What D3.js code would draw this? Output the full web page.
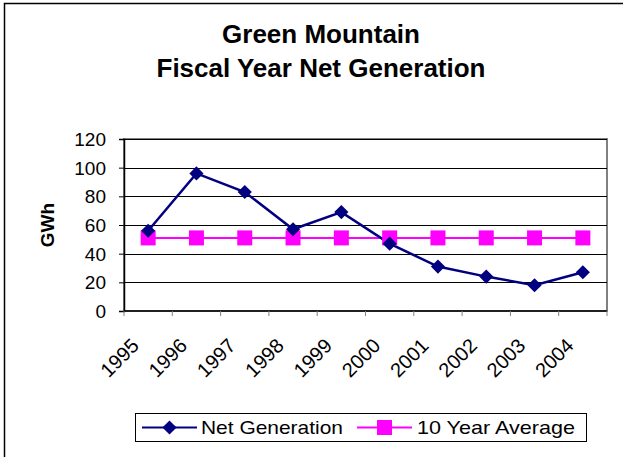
<!DOCTYPE html>
<html>
<head>
<meta charset="utf-8">
<script src="https://cdn.jsdelivr.net/npm/d3@7"></script>
<style>
  body { margin: 0; background: #fff; }
  svg { display: block; font-family: "Liberation Sans", Arial, sans-serif; }
</style>
</head>
<body>
<svg id="chart"></svg>
<script>
const width = 623;
const height = 457;
const margin = { top: 139, right: 16, bottom: 146, left: 124 };

const years = ["1995", "1996", "1997", "1998", "1999", "2000", "2001", "2002", "2003", "2004"];
const netGeneration = [56, 96, 83, 57, 69, 47, 31, 24, 18, 27];
const tenYearAverage = [51, 51, 51, 51, 51, 51, 51, 51, 51, 51];
const yTicks = [0, 20, 40, 60, 80, 100, 120];

const svg = d3.select("#chart").attr("width", width).attr("height", height);

// outer chart border (right and bottom fall off the picture)
svg.append("rect")
  .attr("x", 4.5).attr("y", 3.5)
  .attr("width", 640).attr("height", 470)
  .attr("fill", "#fff")
  .attr("stroke", "#000")
  .attr("stroke-width", 1.5);

const xScale = d3.scaleBand()
  .domain(years)
  .range([margin.left, width - margin.right]);

const yScale = d3.scaleLinear()
  .domain([0, 120])
  .range([height - margin.bottom, margin.top]);

// plot area frame
svg.append("rect")
  .attr("x", margin.left).attr("y", margin.top)
  .attr("width", width - margin.right - margin.left)
  .attr("height", yScale(0) - margin.top)
  .attr("fill", "none")
  .attr("stroke", "#808080")
  .attr("stroke-width", 2);

// gridlines
svg.append("g")
  .selectAll("line")
  .data(yTicks.filter((d) => d > 0))
  .join("line")
  .attr("x1", margin.left)
  .attr("x2", width - margin.right)
  .attr("y1", (d) => Math.round(yScale(d)) + 0.5)
  .attr("y2", (d) => Math.round(yScale(d)) + 0.5)
  .attr("stroke", "#000")
  .attr("stroke-width", 1);

// y axis
const yAxis = svg.append("g")
  .attr("transform", `translate(${margin.left},0)`)
  .call(d3.axisLeft(yScale).tickValues(yTicks).tickSize(5).tickPadding(13));
yAxis.select(".domain").attr("stroke", "#000").attr("stroke-width", 1.5);
yAxis.selectAll(".tick line").attr("stroke", "#000");
yAxis.selectAll("text")
  .attr("fill", "#000")
  .style("font-size", "19px")
  .attr("dy", "0.35em");

// x axis: ticks sit on the category boundaries
const xAxis = svg.append("g")
  .attr("transform", `translate(0,${yScale(0)})`);
xAxis.append("line")
  .attr("x1", margin.left).attr("x2", width - margin.right)
  .attr("stroke", "#000").attr("stroke-width", 1.5);
xAxis.selectAll(".xtick")
  .data(years.concat(["end"]))
  .join("line")
  .attr("class", "xtick")
  .attr("x1", (d, i) => margin.left + i * xScale.bandwidth())
  .attr("x2", (d, i) => margin.left + i * xScale.bandwidth())
  .attr("y1", 0).attr("y2", 5)
  .attr("stroke", "#808080");
xAxis.selectAll(".xlabel")
  .data(years)
  .join("text")
  .attr("class", "xlabel")
  .attr("transform", (d) => `translate(${xScale(d) + xScale.bandwidth() / 2 - 8},${36}) rotate(-45)`)
  .attr("text-anchor", "end")
  .style("font-size", "20px")
  .text((d) => d);

// y axis title
svg.append("text")
  .attr("transform", `translate(54,${yScale(60)}) rotate(-90)`)
  .attr("text-anchor", "middle")
  .style("font-size", "19px")
  .style("font-weight", "bold")
  .text("GWh");

// title
const title = svg.append("text")
  .attr("x", 321)
  .attr("text-anchor", "middle")
  .style("font-size", "26px")
  .style("font-weight", "bold");
title.append("tspan").attr("x", 321).attr("y", 43).text("Green Mountain");
title.append("tspan").attr("x", 321).attr("y", 77).text("Fiscal Year Net Generation");

const cx = (d, i) => xScale(years[i]) + xScale.bandwidth() / 2;

const line = d3.line()
  .x((d, i) => cx(d, i))
  .y((d) => yScale(d));

// 10 year average
svg.append("path")
  .datum(tenYearAverage)
  .attr("d", line)
  .attr("fill", "none")
  .attr("stroke", "#ff00ff")
  .attr("stroke-width", 2);

// net generation
svg.append("path")
  .datum(netGeneration)
  .attr("d", line)
  .attr("fill", "none")
  .attr("stroke", "#000080")
  .attr("stroke-width", 2.5);

const diamond = d3.symbol().type(d3.symbolSquare).size(100);
const square = d3.symbol().type(d3.symbolSquare).size(225);

svg.append("g")
  .selectAll("path")
  .data(tenYearAverage)
  .join("path")
  .attr("d", square)
  .attr("transform", (d, i) => `translate(${cx(d, i)},${yScale(d)})`)
  .attr("fill", "#ff00ff");

svg.append("g")
  .selectAll("path")
  .data(netGeneration)
  .join("path")
  .attr("d", diamond)
  .attr("transform", (d, i) => `translate(${cx(d, i)},${yScale(d)}) rotate(45)`)
  .attr("fill", "#000080");

// legend
const legend = svg.append("g");
legend.append("rect")
  .attr("x", 135.5).attr("y", 413.5)
  .attr("width", 451).attr("height", 28)
  .attr("fill", "#fff")
  .attr("stroke", "#000")
  .attr("stroke-width", 1);

const legendItems = [
  { name: "Net Generation", color: "#000080", marker: diamond, rot: 45, x1: 142, x2: 197, tx: 201, w: 142 },
  { name: "10 Year Average", color: "#ff00ff", marker: square, rot: 0, x1: 357, x2: 412, tx: 417, w: 158 }
];
legendItems.forEach((it) => {
  legend.append("line")
    .attr("x1", it.x1).attr("x2", it.x2)
    .attr("y1", 427.5).attr("y2", 427.5)
    .attr("stroke", it.color).attr("stroke-width", 2);
  legend.append("path")
    .attr("d", it.marker)
    .attr("transform", `translate(${(it.x1 + it.x2) / 2},427.5) rotate(${it.rot})`)
    .attr("fill", it.color);
  legend.append("text")
    .attr("x", it.tx).attr("y", 434)
    .attr("textLength", it.w)
    .attr("lengthAdjust", "spacingAndGlyphs")
    .style("font-size", "19px")
    .text(it.name);
});
</script>
</body>
</html>
